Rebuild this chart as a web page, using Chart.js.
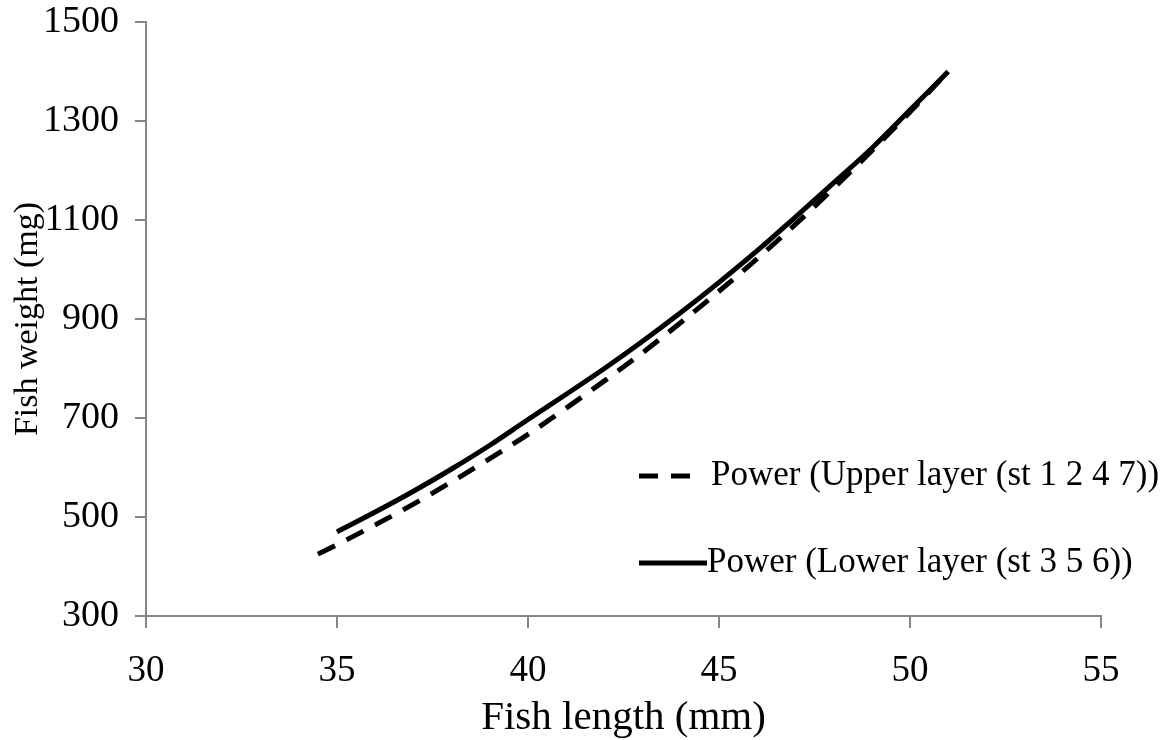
<!DOCTYPE html>
<html>
<head>
<meta charset="utf-8">
<script src="https://cdn.jsdelivr.net/npm/chart.js@4/dist/chart.umd.min.js"></script>
<style>
  html, body { margin: 0; padding: 0; background: #fff; }
  #wrap { width: 1170px; height: 740px; }
</style>
</head>
<body>
<div id="wrap"><canvas id="myChart" width="1170" height="740"></canvas></div>
<script>
// fish length (mm) vs weight (mg)
const upperLength = [34.5, 35, 36, 37, 38, 39, 40, 41, 42, 43, 44, 45, 46, 47, 48, 49, 50, 51];
const upperWeight = [425, 444, 484, 526, 571, 618, 667, 720, 775, 832, 893, 956, 1022, 1091, 1164, 1240, 1318, 1400];
const lowerLength = [35, 36, 37, 38, 39, 40, 41, 42, 43, 44, 45, 46, 47, 48, 49, 50, 51];
const lowerWeight = [470, 510, 552, 597, 645, 697, 748, 800, 855, 913, 974, 1038, 1106, 1175, 1245, 1322, 1400];
const seriesNames = ["Power (Upper layer (st 1 2 4 7))", "Power (Lower layer (st 3 5 6))"];
const xTicks = [30, 35, 40, 45, 50, 55];
const yTicks = [300, 500, 700, 900, 1100, 1300, 1500];

const serif = "'Liberation Serif', 'Times New Roman', serif";
const axisGrey = "#868686";

function pairs(xs, ys) {
  return xs.map((x, i) => ({ x: x, y: ys[i] }));
}

// legend drawn inside the plot, like the original
const insideLegend = {
  id: "insideLegend",
  afterDraw(chart) {
    const ctx = chart.ctx;
    const rows = [
      { y: 476, x0: 639, x1: 693, textX: 711 },
      { y: 563, x0: 639, x1: 707, textX: 707 }
    ];
    ctx.save();
    chart.data.datasets.forEach((ds, i) => {
      const r = rows[i];
      ctx.beginPath();
      ctx.strokeStyle = ds.borderColor;
      ctx.lineWidth = ds.borderWidth;
      ctx.setLineDash(ds.borderDash || []);
      ctx.moveTo(r.x0, r.y);
      ctx.lineTo(r.x1, r.y);
      ctx.stroke();
      ctx.setLineDash([]);
      ctx.fillStyle = "#000";
      ctx.font = "35px " + serif;
      ctx.textBaseline = "middle";
      ctx.textAlign = "left";
      ctx.fillText(ds.label, r.textX, r.y);
    });
    ctx.restore();
  }
};

new Chart("myChart", {
  type: "line",
  data: {
    datasets: [{
      label: seriesNames[0],
      data: pairs(upperLength, upperWeight),
      borderColor: "#000",
      borderWidth: 5,
      borderDash: [19, 13],
      pointRadius: 0,
      fill: false,
      cubicInterpolationMode: "monotone"
    }, {
      label: seriesNames[1],
      data: pairs(lowerLength, lowerWeight),
      borderColor: "#000",
      borderWidth: 5,
      pointRadius: 0,
      fill: false,
      cubicInterpolationMode: "monotone"
    }]
  },
  options: {
    responsive: false,
    animation: false,
    devicePixelRatio: 1,
    layout: { padding: { left: 0, right: 69, top: 22, bottom: 0 } },
    plugins: {
      legend: { display: false },
      tooltip: { enabled: false }
    },
    scales: {
      x: {
        type: "linear",
        min: 30,
        max: 55,
        afterBuildTicks: (scale) => { scale.ticks = xTicks.map(v => ({ value: v })); },
        afterFit: (scale) => { scale.height = 124; },
        border: { color: axisGrey, width: 2 },
        grid: { drawOnChartArea: false, drawTicks: true, tickLength: 12, color: axisGrey, lineWidth: 2 },
        ticks: { color: "#000", font: { family: serif, size: 37 }, padding: 21, maxRotation: 0,
                 callback: (v) => String(v) },
        title: { display: true, text: "Fish length (mm)", color: "#000",
                 font: { family: serif, size: 41, lineHeight: 1.05 }, padding: { top: 0, bottom: 0 } }
      },
      y: {
        type: "linear",
        min: 300,
        max: 1500,
        afterBuildTicks: (scale) => { scale.ticks = yTicks.map(v => ({ value: v })); },
        afterFit: (scale) => { scale.width = 146; scale.paddingTop = 16; scale.paddingBottom = 16; },
        border: { color: axisGrey, width: 2 },
        grid: { drawOnChartArea: false, drawTicks: true, tickLength: 11, color: axisGrey, lineWidth: 2 },
        ticks: { color: "#000", font: { family: serif, size: 38 }, padding: 16,
                 callback: (v) => String(v) },
        title: { display: true, text: "Fish weight (mg)", color: "#000", font: { family: serif, size: 34 }, padding: { top: 8, bottom: 0 } }
      }
    }
  },
  plugins: [insideLegend]
});
</script>
</body>
</html>
